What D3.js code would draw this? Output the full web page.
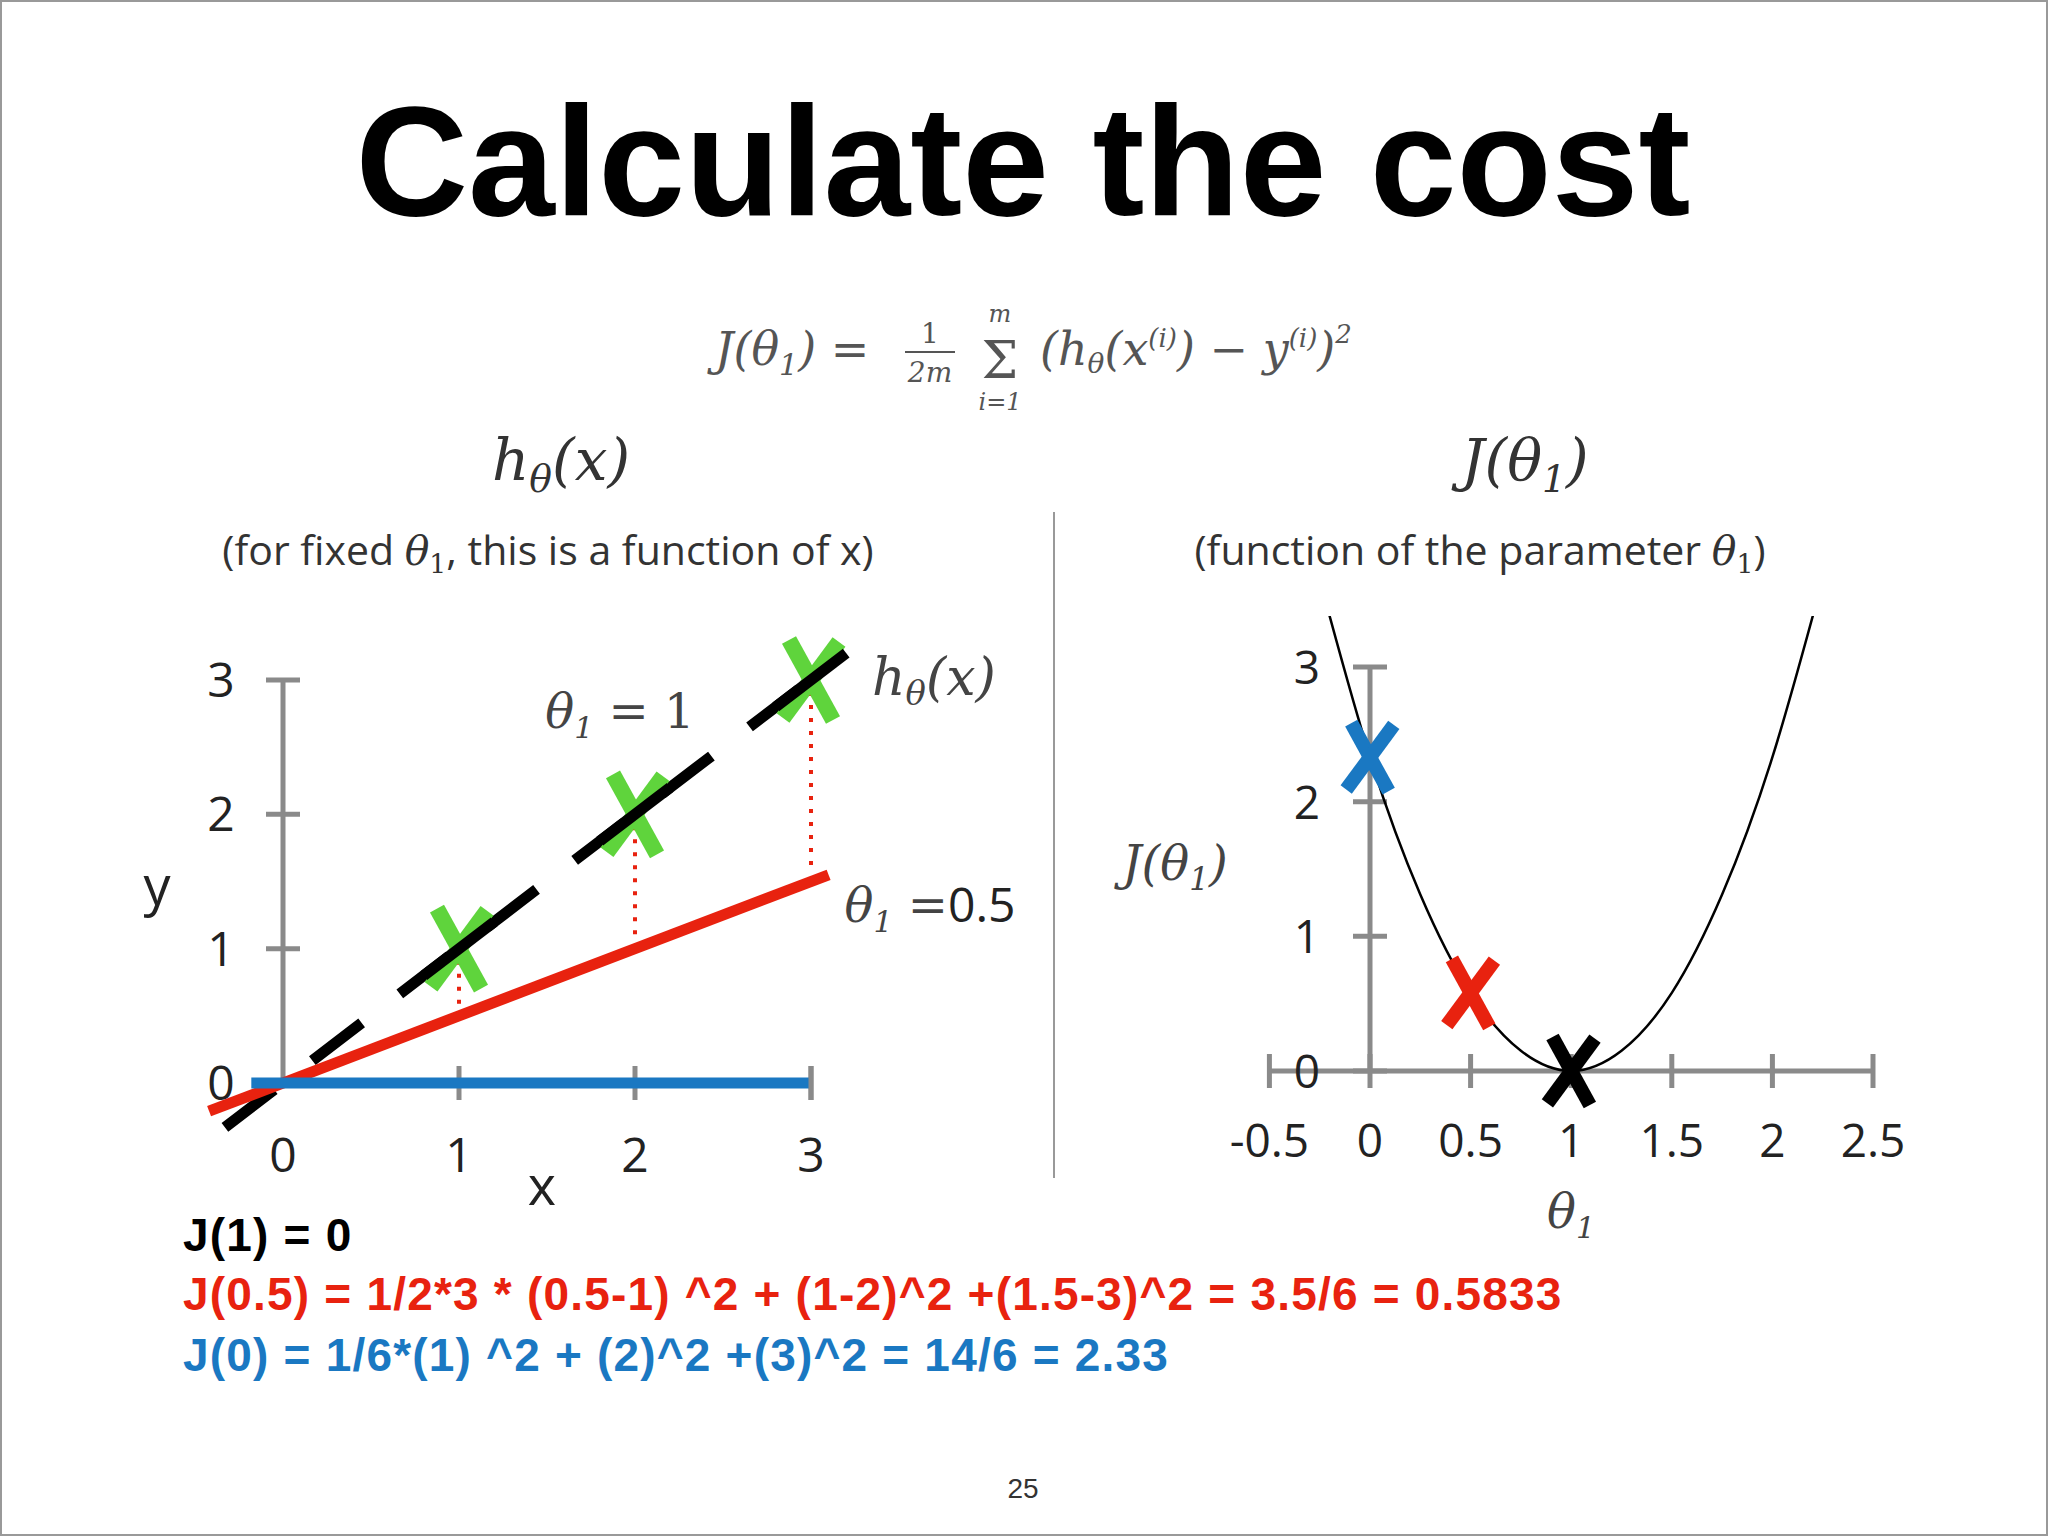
<!DOCTYPE html>
<html><head><meta charset="utf-8">
<script src="https://cdn.jsdelivr.net/npm/d3@7"></script>
<style>body{margin:0;background:#fff}</style></head>
<body><svg id="c" width="2048" height="1536"></svg>
<script>
const xTicksL = [0,1,2,3];
const yTicksL = [0,1,2,3];
const dataX = [1,2,3];
const dataY = [1,2,3];
const thetaLines = [1,0.5,0];
const xTicksR = [-0.5,0,0.5,1,1.5,2,2.5];
const yTicksR = [0,1,2,3];
const curveTheta = [-0.25,0,0.25,0.5,0.75,1,1.25,1.5,1.75,2,2.25];
const curveJ = [3.65,2.33,1.31,0.58,0.15,0,0.15,0.58,1.31,2.33,3.65];
const costTheta = [0,0.5,1];
const costJ = [2.33,0.58,0];
const costColors = ["#1a78c2","#e8220f","#000"];

const svg = d3.select("#c");
svg.append("rect").attr("x",1).attr("y",1).attr("width",2046).attr("height",1534).attr("fill","#fff").attr("stroke","#999").attr("stroke-width",2);
const serif = "'DejaVu Serif','Liberation Serif',serif";
const sans = "'Liberation Sans',Helvetica,Arial,sans-serif";
const axisC = "#8a8a8a";

svg.append("text").attr("x",1023).attr("y",215).attr("text-anchor","middle").attr("font-family",sans).attr("font-weight","bold").attr("font-size",156).text("Calculate the cost");

const f = svg.append("text").attr("x",715).attr("y",365).attr("font-family",serif).attr("font-style","italic").attr("font-size",46).attr("fill","#555");
f.append("tspan").text("J(θ");
f.append("tspan").attr("font-size",30).attr("dy",10).text("1");
f.append("tspan").attr("dy",-10).text(") = ");
svg.append("text").attr("x",930).attr("y",343).attr("text-anchor","middle").attr("font-family",serif).attr("font-size",28).attr("fill","#555").text("1");
svg.append("line").attr("x1",905).attr("x2",955).attr("y1",352).attr("y2",352).attr("stroke","#555").attr("stroke-width",2);
svg.append("text").attr("x",930).attr("y",382).attr("text-anchor","middle").attr("font-family",serif).attr("font-style","italic").attr("font-size",28).attr("fill","#555").text("2m");
svg.append("text").attr("x",1000).attr("y",378).attr("text-anchor","middle").attr("font-family",serif).attr("font-size",52).attr("fill","#555").text("Σ");
svg.append("text").attr("x",1000).attr("y",322).attr("text-anchor","middle").attr("font-family",serif).attr("font-style","italic").attr("font-size",24).attr("fill","#555").text("m");
svg.append("text").attr("x",1000).attr("y",410).attr("text-anchor","middle").attr("font-family",serif).attr("font-style","italic").attr("font-size",24).attr("fill","#555").text("i=1");
const f2 = svg.append("text").attr("x",1040).attr("y",365).attr("font-family",serif).attr("font-style","italic").attr("font-size",46).attr("fill","#555");
f2.append("tspan").text("(h");
f2.append("tspan").attr("font-size",28).attr("dy",8).text("θ");
f2.append("tspan").attr("dy",-8).text("(x");
f2.append("tspan").attr("font-size",26).attr("dy",-18).text("(i)");
f2.append("tspan").attr("dy",18).text(") − y");
f2.append("tspan").attr("font-size",26).attr("dy",-18).text("(i)");
f2.append("tspan").attr("dy",18).text(")");
f2.append("tspan").attr("font-size",26).attr("dy",-22).text("2");

function hlabel(x,y,size,color){
  const t = svg.append("text").attr("x",x).attr("y",y).attr("text-anchor","middle").attr("font-family",serif).attr("font-style","italic").attr("font-size",size).attr("fill",color);
  t.append("tspan").text("h"); t.append("tspan").attr("font-size",size*0.65).attr("dy",size*0.2).text("θ");
  t.append("tspan").attr("dy",-size*0.2).text("(x)"); return t;
}
function jlabel(x,y,size,color){
  const t = svg.append("text").attr("x",x).attr("y",y).attr("text-anchor","middle").attr("font-family",serif).attr("font-style","italic").attr("font-size",size).attr("fill",color);
  t.append("tspan").text("J(θ"); t.append("tspan").attr("font-size",size*0.65).attr("dy",size*0.2).text("1");
  t.append("tspan").attr("dy",-size*0.2).text(")"); return t;
}
hlabel(561,480,58,"#333");
jlabel(1525,480,58,"#333");
function sub(x,y,pre,post,size){
  const t = svg.append("text").attr("x",x).attr("y",y).attr("text-anchor","middle").attr("font-family","'Open Sans',sans-serif").attr("font-size",size).attr("fill","#333");
  t.append("tspan").text(pre); t.append("tspan").attr("font-family",serif).attr("font-style","italic").text("θ");
  t.append("tspan").attr("font-family",serif).attr("font-size",size*0.65).attr("dy",size*0.2).text("1");
  t.append("tspan").attr("dy",-size*0.2).text(post);
}
sub(548,565,"(for fixed ",", this is a function of x)",41);
sub(1480,565,"(function of the parameter ",")",41);
svg.append("line").attr("x1",1054).attr("x2",1054).attr("y1",512).attr("y2",1178).attr("stroke","#999").attr("stroke-width",2);

const xL = d3.scaleLinear().domain([0,3]).range([283,811]);
const yL = d3.scaleLinear().domain([0,3]).range([1083,680]);
const L = svg.append("g");
L.append("line").attr("x1",xL(0)).attr("x2",xL(0)).attr("y1",yL(0)).attr("y2",yL(3)).attr("stroke",axisC).attr("stroke-width",5);
L.selectAll(".yt").data(yTicksL).join("line").attr("x1",xL(0)-17).attr("x2",xL(0)+17).attr("y1",d=>yL(d)).attr("y2",d=>yL(d)).attr("stroke",axisC).attr("stroke-width",5);
L.selectAll(".xt").data(xTicksL.slice(1)).join("line").attr("x1",d=>xL(d)).attr("x2",d=>xL(d)).attr("y1",yL(0)-17).attr("y2",yL(0)+17).attr("stroke",axisC).attr("stroke-width",5);
L.selectAll(".yl").data(yTicksL).join("text").attr("x",xL(0)-62).attr("y",d=>yL(d)+17).attr("text-anchor","middle").attr("font-family","'Open Sans',sans-serif").attr("font-size",48).attr("fill","#222").text(d=>d);
L.selectAll(".xl").data(xTicksL).join("text").attr("x",d=>xL(d)).attr("y",1172).attr("text-anchor","middle").attr("font-family","'Open Sans',sans-serif").attr("font-size",48).attr("fill","#222").text(d=>d);
L.append("text").attr("x",157).attr("y",905).attr("text-anchor","middle").attr("font-family","'Open Sans',sans-serif").attr("font-size",54).attr("fill","#222").text("y");
L.append("text").attr("x",542).attr("y",1205).attr("text-anchor","middle").attr("font-family","'Open Sans',sans-serif").attr("font-size",54).attr("fill","#222").text("x");
L.selectAll(".res").data(dataX).join("line").attr("x1",d=>xL(d)).attr("x2",d=>xL(d)).attr("y1",(d,i)=>yL(dataY[i])+12).attr("y2",d=>yL(0.5*d)-8).attr("stroke","#e8220f").attr("stroke-width",4).attr("stroke-dasharray","4,9");
const lineRanges = [[-0.33,3.09],[-0.42,3.1],[-0.18,3.0]];
const lineStyles = [{c:"#000",d:"62,48"},{c:"#e8220f",d:null},{c:"#1a78c2",d:null}];
thetaLines.forEach((t,i)=>{
  const [a,b]=lineRanges[i];
  L.append("line").attr("x1",xL(a)).attr("x2",xL(b)).attr("y1",yL(t*a)).attr("y2",yL(t*b)).attr("stroke",lineStyles[i].c).attr("stroke-width",11).attr("stroke-dasharray",lineStyles[i].d);
});
L.append("line").attr("x1",xL(3)).attr("x2",xL(3)).attr("y1",yL(0)-17).attr("y2",yL(0)+17).attr("stroke",axisC).attr("stroke-width",5);
function xmark(g,cx,cy,s,color,w){
  g.append("line").attr("x1",cx-s*0.55).attr("y1",cy-s).attr("x2",cx+s*0.55).attr("y2",cy+s).attr("stroke",color).attr("stroke-width",w);
  g.append("line").attr("x1",cx+s*0.7).attr("y1",cy-s*0.95).attr("x2",cx-s*0.7).attr("y2",cy+s*0.95).attr("stroke",color).attr("stroke-width",w);
}
dataX.forEach((d,i)=>xmark(L,xL(d),yL(dataY[i]),40,"#5fd43c",16));
dataX.forEach(d=>{L.append("line").attr("x1",xL(d-0.2)).attr("x2",xL(d+0.2)).attr("y1",yL(d-0.2)).attr("y2",yL(d+0.2)).attr("stroke","#000").attr("stroke-width",11);});
{
  const t = L.append("text").attr("x",620).attr("y",728).attr("text-anchor","middle").attr("font-family",serif).attr("font-style","italic").attr("font-size",48).attr("fill","#444");
  t.append("tspan").text("θ"); t.append("tspan").attr("font-size",30).attr("dy",10).text("1"); t.append("tspan").attr("dy",-10).attr("font-style","normal").text(" = 1");
}
hlabel(934,695,52,"#444");
{
  const t = L.append("text").attr("x",930).attr("y",922).attr("text-anchor","middle").attr("font-family",serif).attr("font-style","italic").attr("font-size",48).attr("fill","#444");
  t.append("tspan").text("θ"); t.append("tspan").attr("font-size",30).attr("dy",10).text("1"); t.append("tspan").attr("dy",-10).attr("font-style","normal").text(" =");
  t.append("tspan").attr("font-family","'Open Sans',sans-serif").attr("font-style","normal").attr("fill","#222").text("0.5");
}

const xR = d3.scaleLinear().domain([0,2.5]).range([1370,1873]);
const yR = d3.scaleLinear().domain([0,3]).range([1071,667]);
const R = svg.append("g");
R.append("line").attr("x1",xR(0)).attr("x2",xR(0)).attr("y1",yR(0)).attr("y2",yR(3)).attr("stroke",axisC).attr("stroke-width",5);
R.append("line").attr("x1",xR(-0.5)).attr("x2",xR(2.5)).attr("y1",yR(0)).attr("y2",yR(0)).attr("stroke",axisC).attr("stroke-width",5);
R.selectAll(".yt").data(yTicksR).join("line").attr("x1",xR(0)-17).attr("x2",xR(0)+17).attr("y1",d=>yR(d)).attr("y2",d=>yR(d)).attr("stroke",axisC).attr("stroke-width",5);
R.selectAll(".xt").data(xTicksR).join("line").attr("x1",d=>xR(d)).attr("x2",d=>xR(d)).attr("y1",yR(0)-17).attr("y2",yR(0)+17).attr("stroke",axisC).attr("stroke-width",5);
R.selectAll(".yl").data(yTicksR).join("text").attr("x",1307).attr("y",d=>yR(d)+17).attr("text-anchor","middle").attr("font-family","'Open Sans',sans-serif").attr("font-size",46).attr("fill","#222").text(d=>d);
R.selectAll(".xl").data(xTicksR).join("text").attr("x",d=>xR(d)).attr("y",1157).attr("text-anchor","middle").attr("font-family","'Open Sans',sans-serif").attr("font-size",46).attr("fill","#222").text(d=>d);
jlabel(1175,880,48,"#444");
{
  const t = R.append("text").attr("x",1571).attr("y",1228).attr("text-anchor","middle").attr("font-family",serif).attr("font-style","italic").attr("font-size",48).attr("fill","#444");
  t.append("tspan").text("θ"); t.append("tspan").attr("font-size",30).attr("dy",10).text("1");
}
svg.append("clipPath").attr("id","cp").append("rect").attr("x",1100).attr("y",616).attr("width",900).attr("height",600);
R.append("path").attr("clip-path","url(#cp)").datum(curveTheta.map((t,i)=>[t,curveJ[i]]))
  .attr("d",d3.line().x(d=>xR(d[0])).y(d=>yR(d[1])).curve(d3.curveNatural)).attr("fill","none").attr("stroke","#000").attr("stroke-width",2.5);
costTheta.forEach((t,i)=>xmark(R,xR(t),yR(costJ[i]),34,costColors[i],14));

const bt = [
  {t:"J(1) = 0",c:"#000",y:1251,b:null},
  {t:"J(0.5) = 1/2*3 * (0.5-1) ^2 + (1-2)^2 +(1.5-3)^2 = 3.5/6 = ",c:"#e8220f",y:1310,b:"0.5833"},
  {t:"J(0) = 1/6*(1) ^2 + (2)^2 +(3)^2 = 14/6 = ",c:"#1a78c2",y:1371,b:"2.33"}
];
bt.forEach((r,i)=>{
  const t = svg.append("text").attr("x",183).attr("y",r.y).attr("font-family",sans).attr("font-size",46).attr("letter-spacing",1.2).attr("fill",r.c).attr("font-weight","bold").text(r.t);
  if(r.b) t.append("tspan").text(r.b);
});
svg.append("text").attr("x",1023).attr("y",1498).attr("text-anchor","middle").attr("font-family",sans).attr("font-size",28).attr("fill","#333").text("25");
</script></body></html>
